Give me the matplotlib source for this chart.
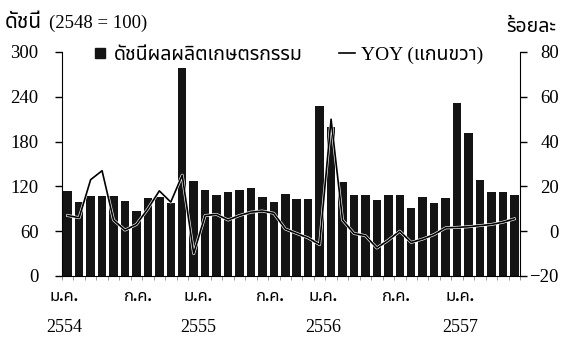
import matplotlib
matplotlib.use("Agg")
import matplotlib.pyplot as plt
import matplotlib.patheffects as pe
from matplotlib.lines import Line2D
import numpy as np

plt.rcParams['font.family'] = ['Liberation Serif', 'Noto Sans Thai', 'Noto Serif Thai',
                               'Loma', 'Garuda', 'Norasi', 'DejaVu Sans']

# ดัชนีผลผลิตเกษตรกรรม รายเดือน ม.ค. 2554 - เม.ย. 2557
index_vals = [114, 99, 107, 107, 107, 100, 87, 105, 106, 98, 278, 127,
              115, 109, 112, 115, 118, 106, 99, 110, 103, 103, 228, 200,
              126, 108, 108, 102, 108, 108, 91, 106, 98, 104, 232, 192,
              129, 112, 112, 109]
# อัตราการเปลี่ยนแปลงเทียบกับปีก่อน (ร้อยละ)
yoy_vals = [7, 6, 23, 27, 5, 0.5, 3, 10, 18, 13, 25, -10,
            7, 7.5, 5, 7, 8.5, 9, 8, 1, -1, -3, -6, 50,
            5, -1, -2, -7.5, -4, 0, -5, -3.5, -1.5, 1.5, 1.7, 2,
            2.5, 3, 4, 5.5]

month_labels = ['ม.ค.', 'ก.ค.', 'ม.ค.', 'ก.ค.', 'ม.ค.', 'ก.ค.', 'ม.ค.']
year_labels = ['2554', '', '2555', '', '2556', '', '2557']
label_pos = [-0.3, 6.2, 11.4, 17.7, 22.3, 28.7, 34.3]

BAR = '#141414'

fig = plt.figure(figsize=(5.79, 3.44), dpi=100)
ax = fig.add_axes([62 / 579, 1 - 276 / 344, 458 / 579, 224 / 344])

x = np.arange(len(index_vals))
ax.bar(x, index_vals, width=0.74, color=BAR, zorder=2)
ax.set_xlim(-0.5, len(x) - 0.5)
ax.set_ylim(0, 300)
ax.set_yticks(range(0, 301, 60))

ax2 = ax.twinx()
ax2.set_ylim(-20, 80)
ax2.set_yticks(range(-20, 81, 20))
ax2.plot(x, yoy_vals, color='black', lw=1.2,
         path_effects=[pe.Stroke(linewidth=2.1, foreground='white'), pe.Normal()])

for a in (ax, ax2):
    a.spines['top'].set_visible(False)
ax.spines['right'].set_visible(False)
ax2.spines['left'].set_visible(False)
ax2.spines['bottom'].set_visible(False)

ax.tick_params(axis='y', direction='out', length=5, width=1, pad=12, labelsize=13.5)
ax2.tick_params(axis='y', direction='out', length=5, width=1, pad=23, labelsize=13.5)
for lab in ax2.get_yticklabels():
    lab.set_horizontalalignment('right')

# tick เล็กใต้แกน x ทุกเดือน
ax.set_xticks(np.arange(-0.5, len(x), 1), minor=True)
ax.set_xticks([])
ax.tick_params(axis='x', which='minor', direction='out', length=3, width=0.6, color='#888888')

for pos, m, yr in zip(label_pos, month_labels, year_labels):
    ax.text(pos, -0.095, m, transform=ax.get_xaxis_transform(),
            ha='center', va='center', fontsize=12, fontweight='bold')
    if yr:
        ax.text(pos, -0.23, yr, transform=ax.get_xaxis_transform(),
                ha='center', va='center', fontsize=13)

fig.text(5 / 579, 1 - 23 / 344, 'ดัชนี', ha='left', va='center', fontsize=15, fontweight='bold')
fig.text(49 / 579, 1 - 23 / 344, '(2548 = 100)', ha='left', va='center', fontsize=13.5)
fig.text(556 / 579, 1 - 27 / 344, 'ร้อยละ', ha='right', va='center', fontsize=14, fontweight='bold')

handles = [Line2D([], [], marker='s', ls='', markersize=7.5, color=BAR),
           Line2D([], [], color='black', lw=1.2)]
fig.legend(handles, ['ดัชนีผลผลิตเกษตรกรรม', 'YOY (แกนขวา)'],
           loc='center left', bbox_to_anchor=(92 / 579, 1 - 55 / 344),
           ncol=2, frameon=False, handlelength=0.8, handletextpad=0.3,
           columnspacing=1.9, fontsize=14, borderaxespad=0, borderpad=0)

fig.savefig('out.png', dpi=100)
